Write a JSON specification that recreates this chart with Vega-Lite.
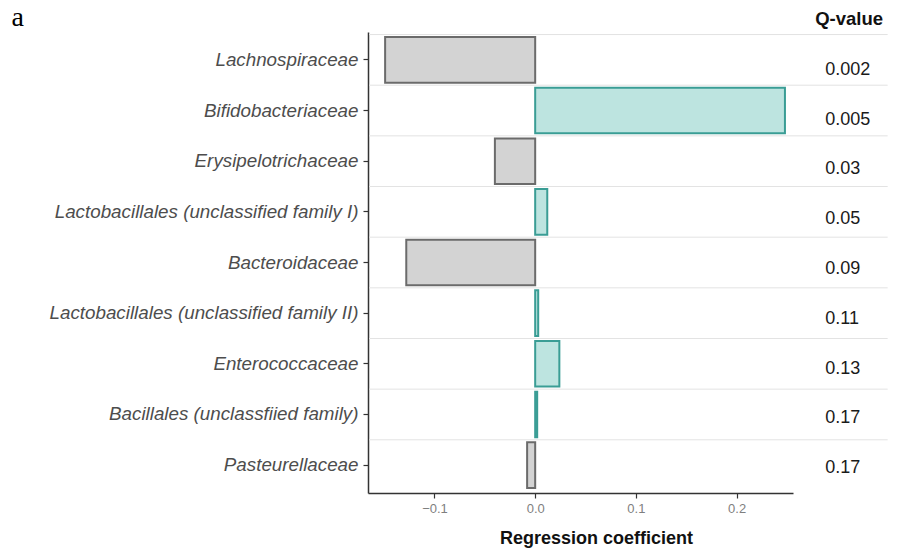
{
  "$schema": "https://vega.github.io/schema/vega-lite/v6.json",
  "width": 425,
  "height": 461,
  "autosize": {"type": "none"},
  "padding": {"left": 368, "top": 32, "right": 107, "bottom": 57},
  "background": "white",
  "config": {"view": {"stroke": null}, "font": "Liberation Sans"},
  "title": {"text": "Q-value", "anchor": "end", "frame": "group", "dx": 90, "fontSize": 18.5, "fontWeight": "bold", "color": "#111111", "offset": -25, "font": "Liberation Sans"},
  "data": {"values": [
    {"family": "Lachnospiraceae", "coef": -0.149, "q": "0.002", "sign": "neg"},
    {"family": "Bifidobacteriaceae", "coef": 0.248, "q": "0.005", "sign": "pos"},
    {"family": "Erysipelotrichaceae", "coef": -0.040, "q": "0.03", "sign": "neg"},
    {"family": "Lactobacillales (unclassified family I)", "coef": 0.012, "q": "0.05", "sign": "pos"},
    {"family": "Bacteroidaceae", "coef": -0.128, "q": "0.09", "sign": "neg"},
    {"family": "Lactobacillales (unclassified family II)", "coef": 0.003, "q": "0.11", "sign": "pos"},
    {"family": "Enterococcaceae", "coef": 0.024, "q": "0.13", "sign": "pos"},
    {"family": "Bacillales (unclassfiied family)", "coef": 0.002, "q": "0.17", "sign": "pos"},
    {"family": "Pasteurellaceae", "coef": -0.008, "q": "0.17", "sign": "neg"}
  ]},
  "layer": [
    {
      "mark": {"type": "bar", "height": {"band": 0.9}, "strokeWidth": 2},
      "encoding": {
        "y": {"field": "family", "type": "nominal", "sort": null,
          "scale": {"type": "band", "paddingInner": 0, "paddingOuter": 0.05},
          "axis": {"orient": "left", "title": "a", "titleAngle": 0, "titleAlign": "left", "titleBaseline": "alphabetic",
            "titleX": -357, "titleY": -7, "titleFont": "Liberation Serif", "titleFontSize": 28, "titleFontWeight": "normal", "titleColor": "#000000",
            "labelFont": "Liberation Sans", "labelFontStyle": "italic", "labelFontSize": 18.8, "labelColor": "#4d4d4d", "labelPadding": 5, "labelLimit": 0,
            "tickSize": 5, "tickColor": "#333333", "tickWidth": 1.2, "domainColor": "#333333", "domainWidth": 1.5, "grid": false}},
        "x": {"field": "coef", "type": "quantitative",
          "scale": {"domain": [-0.166, 0.256], "nice": false, "zero": false},
          "axis": {"values": [-0.1, 0, 0.1, 0.2], "format": ".1f", "title": "Regression coefficient",
            "titleFontSize": 18, "titleFontWeight": "bold", "titleColor": "#111111", "titleX": 228, "titlePadding": 14,
            "labelFontSize": 13, "labelColor": "#7f7f7f", "labelPadding": 4, "tickColor": "#333333", "tickSize": 5, "tickWidth": 1.2,
            "domainColor": "#333333", "domainWidth": 1.5, "grid": false}},
        "fill": {"field": "sign", "type": "nominal", "scale": {"domain": ["neg", "pos"], "range": ["#d3d3d3", "#bde4e0"]}, "legend": null},
        "stroke": {"field": "sign", "type": "nominal", "scale": {"domain": ["neg", "pos"], "range": ["#6b6b6b", "#3a9d95"]}, "legend": null}
      }
    },
    {
      "mark": {"type": "rule", "color": "#e3e3e3", "strokeWidth": 1},
      "encoding": {
        "y": {"field": "family", "type": "nominal", "sort": null, "bandPosition": 0,
          "scale": {"type": "band", "paddingInner": 0, "paddingOuter": 0.05}, "axis": null},
        "x": {"datum": -0.165},
        "x2": {"datum": 0.35}
      }
    },
    {
      "mark": {"type": "text", "align": "left", "baseline": "middle", "fontSize": 18, "dy": 6.5, "color": "#1a1a1a", "font": "Liberation Sans"},
      "encoding": {
        "y": {"field": "family", "type": "nominal", "sort": null, "scale": {"type": "point", "padding": 0.633}, "axis": null},
        "x": {"datum": 0.288},
        "text": {"field": "q"}
      }
    }
  ],
  "resolve": {"scale": {"y": "independent"}}
}
